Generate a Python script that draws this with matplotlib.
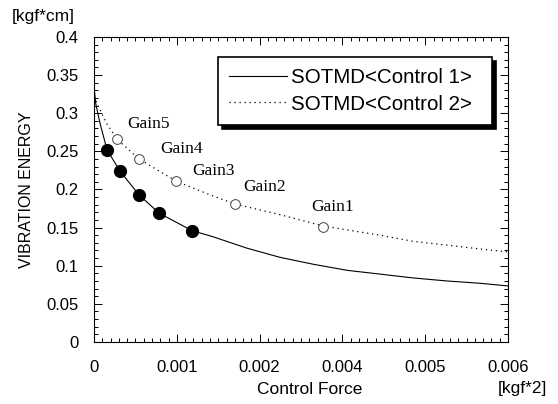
import matplotlib
matplotlib.use("Agg")
import matplotlib.pyplot as plt
from matplotlib.ticker import AutoMinorLocator

plt.rcParams['font.family'] = ['Liberation Sans', 'DejaVu Sans']

# curves (x in kgf^2, y in kgf*cm)
ctrl1_x = [0.0, 0.00002, 0.000072, 0.000157, 0.000314, 0.000543, 0.000785, 0.001184,
           0.001437, 0.001848, 0.002246, 0.002645, 0.003056, 0.003454, 0.003853,
           0.004263, 0.004662, 0.005]
ctrl1_y = [0.335, 0.313, 0.287, 0.252, 0.224, 0.193, 0.169, 0.146,
           0.138, 0.123, 0.111, 0.102, 0.094, 0.089, 0.084,
           0.080, 0.077, 0.0735]

ctrl2_x = [0.0, 0.000036, 0.00015, 0.000278, 0.000543, 0.00099, 0.0014, 0.0017,
           0.002246, 0.00277, 0.003056, 0.003454, 0.003853, 0.004263, 0.004662, 0.005]
ctrl2_y = [0.322, 0.313, 0.287, 0.266, 0.240, 0.211, 0.193, 0.181,
           0.167, 0.152, 0.147, 0.140, 0.132, 0.127, 0.122, 0.118]

# gain points (Gain5 ... Gain1)
gain_names = ['Gain5', 'Gain4', 'Gain3', 'Gain2', 'Gain1']
filled_x = [0.000157, 0.000314, 0.000543, 0.000785, 0.001184]
filled_y = [0.252, 0.224, 0.193, 0.169, 0.146]
open_x = [0.000278, 0.000543, 0.00099, 0.0017, 0.00277]
open_y = [0.266, 0.240, 0.211, 0.181, 0.151]

xticks = [0, 0.001, 0.002, 0.003, 0.004, 0.005]
xtick_labels = ['0', '0.001', '0.002', '0.004', '0.005', '0.006']
yticks = [0, 0.05, 0.1, 0.15, 0.2, 0.25, 0.3, 0.35, 0.4]
ytick_labels = ['0', '0.05', '0.1', '0.15', '0.2', '0.25', '0.3', '0.35', '0.4']

# label offsets (points) from the open circles
label_dx = [7, 15, 12, 6, -9]
label_dy = [11, 7, 7, 12, 14]

fig = plt.figure(figsize=(5.58, 4.04), dpi=100)
ax = fig.add_axes([0.1685, 0.1535, 0.742, 0.755])

ax.plot(ctrl1_x, ctrl1_y, color='black', lw=0.8, label='SOTMD<Control 1>')
ax.plot(ctrl2_x, ctrl2_y, color='black', lw=0.9, ls=(0, (1, 3)), label='SOTMD<Control 2>')
ax.plot(filled_x, filled_y, 'o', color='black', ms=8.5, zorder=3)
ax.plot(open_x, open_y, 'o', mfc='white', mec='#444444', mew=0.7, ms=7, zorder=3)

for name, x, y, dx, dy in zip(gain_names, open_x, open_y, label_dx, label_dy):
    ax.annotate(name, (x, y), xytext=(dx, dy), textcoords='offset points',
                ha='left', va='center', fontsize=12.5, family='Liberation Serif')

ax.set_xlim(0, 0.005)
ax.set_ylim(0, 0.4)
ax.set_xticks(xticks)
ax.set_xticklabels(xtick_labels)
ax.set_yticks(yticks)
ax.set_yticklabels(ytick_labels)
ax.xaxis.set_minor_locator(AutoMinorLocator(10))
ax.yaxis.set_minor_locator(AutoMinorLocator(5))
ax.tick_params(which='both', direction='in', top=True, right=True, width=0.7)
ax.tick_params(which='major', length=6, labelsize=12)
ax.tick_params(which='minor', length=3)
ax.tick_params(axis='x', pad=13)
ax.tick_params(axis='y', pad=11)
for sp in ax.spines.values():
    sp.set_linewidth(0.8)

ax.set_xlabel('Control Force', fontsize=12.5)
ax.xaxis.set_label_coords(0.522, -0.132)
ax.set_ylabel('VIBRATION ENERGY', fontsize=11.5)
ax.yaxis.set_label_coords(-0.145, 0.5)

fig.text(12 / 558, 1 - 17 / 404, '[kgf*cm]', fontsize=12.5, ha='left', va='center')
fig.text(547 / 558, 1 - 388 / 404, '[kgf*2]', fontsize=12.5, ha='right', va='center')

leg = ax.legend(loc='upper left', bbox_to_anchor=(0.2995, 0.5, 0.662, 0.434), mode='expand',
                borderaxespad=0, fontsize=14.8, handlelength=2.8, handletextpad=0.2,
                labelspacing=0.35, borderpad=0.55, fancybox=False, edgecolor='black',
                shadow={'ox': 3, 'oy': -3, 'facecolor': 'black', 'edgecolor': 'black', 'alpha': 1})
leg.get_frame().set_linewidth(1.2)

fig.savefig('out.png', dpi=100)
